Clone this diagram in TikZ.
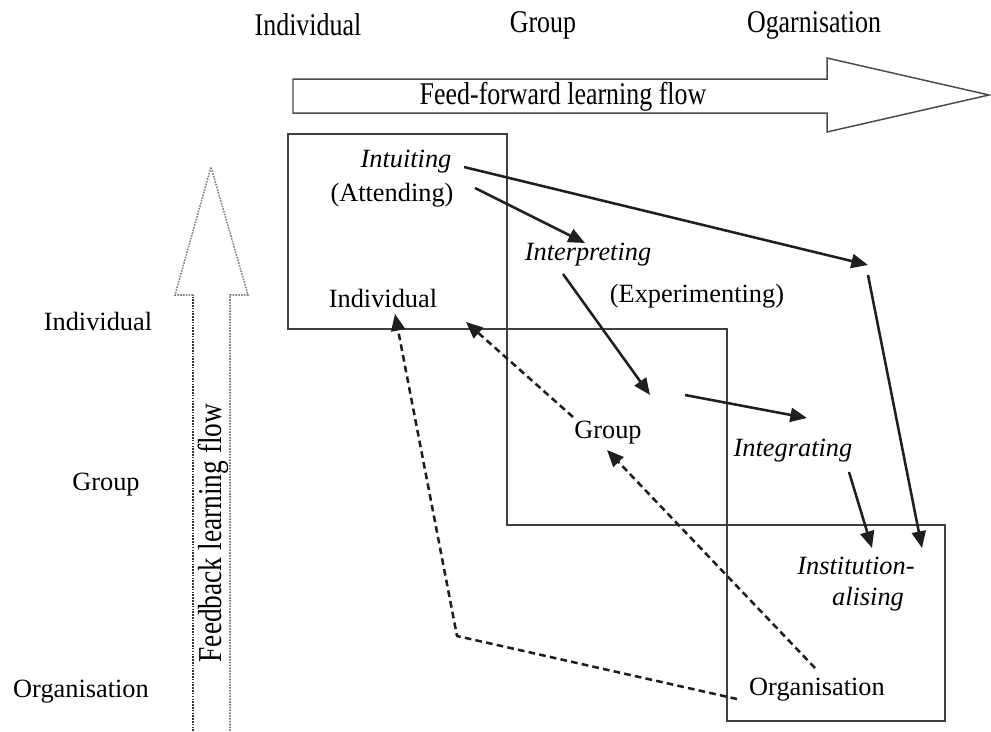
\documentclass[tikz,border=0pt]{standalone}
\usepackage{fontspec}
\setmainfont{Liberation Serif}
\newfontfamily\narrowserif[FakeStretch=0.82]{Liberation Serif}
\usetikzlibrary{arrows.meta}

\begin{document}
\begin{tikzpicture}[x=0.02cm,y=-0.02cm,
  lbl/.style={inner sep=0pt, font=\fontsize{15}{18}\selectfont},
  ital/.style={inner sep=0pt, font=\fontsize{15}{18}\selectfont\itshape},
  headlbl/.style={inner sep=0pt, font=\narrowserif\fontsize{18}{22}\selectfont},
  rowlbl/.style={inner sep=0pt, font=\fontsize{15}{18}\selectfont},
  frame/.style={draw=black!75, line width=0.85pt},
  bigarrow/.style={draw=black!70, line width=0.85pt, line join=miter},
  fbdots/.style={line width=0.9pt, dash pattern=on 0.9pt off 0.7pt},
  flow/.style={draw=black!88, line width=1.45pt,
    -{Triangle[length=9.5pt,width=8pt]}},
  back/.style={flow, dash pattern=on 3.8pt off 2.4pt}]

\useasboundingbox (0,0) rectangle (991,731);

% level headings
\node[headlbl] (hind) at (308,25) {Individual};
\node[headlbl] (hgrp) at (543,25) {Group};
\node[headlbl] (horg) at (814,25) {Ogarnisation};

\node[rowlbl] (rind) at (98,321) {Individual};
\node[rowlbl] (rgrp) at (106,485) {Group};
\node[rowlbl] (rorg) at (81,692) {Organisation};

% feed-forward block arrow
\draw[bigarrow] (293,79) -- (827,79) -- (827,58) -- (989,95) -- (827,132)
  -- (827,113) -- (293,113) -- cycle;
\node[headlbl] (ffl) at (563,97) {Feed-forward learning flow};

% feedback block arrow (dotted outline)
\draw[fbdots, draw=black!80] (193,731) -- (193,295);
\draw[fbdots, draw=black!50] (193,295) -- (175,295) -- (211,167) -- (248,295)
  -- (230,295) -- (230,731);
\node[headlbl, font=\narrowserif\fontsize{19}{22}\selectfont, rotate=90]
  (fbl) at (213,533) {Feedback learning flow};

% the three level boxes
\draw[frame] (288,134) rectangle (507,329);
\draw[frame] (507,329) rectangle (727,525);
\draw[frame] (727,525) rectangle (945,721);

% process labels
\node[ital] (intu) at (406,162) {Intuiting};
\node[lbl] (att) at (392,195) {(Attending)};
\node[lbl] (indv) at (383,298) {Individual};
\node[ital] (interp) at (588,255) {Interpreting};
\node[lbl] (exper) at (697,296) {(Experimenting)};
\node[lbl] (grp) at (608,433) {Group};
\node[ital] (integ) at (793,451) {Integrating};
\node[ital] (inst1) at (856,566) {Institution-};
\node[ital] (inst2) at (868,599) {alising};
\node[lbl] (org) at (817,690) {Organisation};

% connector end points
\coordinate (intuout) at (464,167);
\coordinate (bend) at (868,265);
\coordinate (bendout) at (868,275);
\coordinate (instinA) at (922,548);
\coordinate (attout) at (475,188);
\coordinate (interpin) at (585,243);
\coordinate (interpout) at (563,274);
\coordinate (grpin) at (650,395);
\coordinate (grpout) at (685,395);
\coordinate (integin) at (807,418);
\coordinate (integout) at (849,472);
\coordinate (instinB) at (872,548);
\coordinate (orgoutA) at (737,699);
\coordinate (corner) at (457,636);
\coordinate (indvinA) at (395,314);
\coordinate (orgoutB) at (815,668);
\coordinate (grpinB) at (607,450);
\coordinate (grpoutB) at (573,417);
\coordinate (indvinB) at (466,322);

% feed-forward connectors
\draw[flow] (intuout) -- (bend);
\draw[flow] (bendout) -- (instinA);
\draw[flow] (attout) -- (interpin);
\draw[flow] (interpout) -- (grpin);
\draw[flow] (grpout) -- (integin);
\draw[flow] (integout) -- (instinB);

% feedback connectors
\draw[back] (orgoutA) -- (corner) -- (indvinA);
\draw[back] (orgoutB) -- (grpinB);
\draw[back] (grpoutB) -- (indvinB);
\end{tikzpicture}
\end{document}
